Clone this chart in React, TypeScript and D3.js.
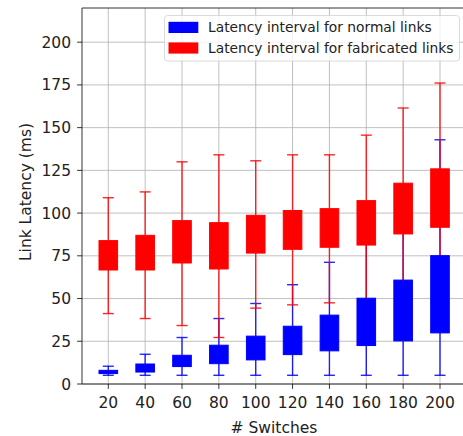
import React from "react";
import * as d3 from "d3";

const switches = ["20", "40", "60", "80", "100", "120", "140", "160", "180", "200"];

// normal links (blue)
const normalLow = [5.1, 5.1, 5.1, 5.1, 5.1, 5.1, 5.1, 5.1, 5.1, 5.1];
const normalQ1 = [6.1, 7.0, 10.2, 11.9, 14.1, 17.2, 19.4, 22.5, 25.2, 29.9];
const normalQ3 = [8.0, 11.7, 16.8, 22.7, 28.0, 33.8, 40.3, 50.2, 60.8, 75.1];
const normalHigh = [10.4, 17.4, 27.2, 38.3, 47.1, 58.1, 71.2, 88, 105, 142.9];

// fabricated links (red)
const fabLow = [41.2, 38.3, 34.2, 27.2, 44.4, 46.3, 47.5, 38, 42, 48];
const fabQ1 = [66.7, 66.7, 70.8, 67.3, 76.6, 78.8, 80.0, 81.3, 87.8, 91.7];
const fabQ3 = [83.9, 87.0, 95.6, 94.4, 98.7, 101.5, 102.6, 107.3, 117.5, 125.9];
const fabHigh = [109, 112.4, 130, 134.1, 130.6, 134.1, 134.1, 145.6, 161.5, 176.1];

const yTicks = [0, 25, 50, 75, 100, 125, 150, 175, 200];

const W = 463;
const H = 436;
const left = 82;
const right = 466;
const top = 8;
const bottom = 384;
const font = "DejaVu Sans, sans-serif";

export default function App() {
  const x = d3.scaleLinear().domain([0, switches.length - 1]).range([108.3, 440]);
  const y = d3.scaleLinear().domain([0, 220]).range([bottom, top]);
  const boxW = 18.6;
  const capW = 11;

  const series = [
    { name: "Latency interval for normal links", color: "#0000ff", lo: normalLow, q1: normalQ1, q3: normalQ3, hi: normalHigh },
    { name: "Latency interval for fabricated links", color: "#ff0000", lo: fabLow, q1: fabQ1, q3: fabQ3, hi: fabHigh },
  ];

  const whiskers = series.map((s) => (
    <g key={"w" + s.name} stroke={s.color} strokeWidth={1.4} strokeOpacity={0.85}>
      {switches.map((c, i) => {
        const cx = x(i);
        return (
          <g key={c}>
            <line x1={cx} x2={cx} y1={y(s.hi[i])} y2={y(s.q3[i])} />
            <line x1={cx} x2={cx} y1={y(s.q1[i])} y2={y(s.lo[i])} />
            <line x1={cx - capW / 2} x2={cx + capW / 2} y1={y(s.hi[i])} y2={y(s.hi[i])} />
            <line x1={cx - capW / 2} x2={cx + capW / 2} y1={y(s.lo[i])} y2={y(s.lo[i])} />
          </g>
        );
      })}
    </g>
  ));

  const boxes = series.map((s) => (
    <g key={"b" + s.name} fill={s.color} stroke={s.color} strokeWidth={1}>
      {switches.map((c, i) => (
        <rect
          key={c}
          x={x(i) - boxW / 2}
          width={boxW}
          y={y(s.q3[i])}
          height={y(s.q1[i]) - y(s.q3[i])}
        />
      ))}
    </g>
  ));

  return (
    <svg width={W} height={H} style={{ position: "absolute", left: 0, top: 0 }} fontFamily={font}>
      <rect width={W} height={H} fill="white" />
      {/* grid */}
      <g stroke="#b0b0b0" strokeWidth={0.8}>
        {yTicks.map((t) => (
          <line key={"gy" + t} x1={left} x2={right} y1={y(t)} y2={y(t)} />
        ))}
        {switches.map((c, i) => (
          <line key={"gx" + c} x1={x(i)} x2={x(i)} y1={top} y2={bottom} />
        ))}
      </g>
      {whiskers}
      {boxes}
      {/* spines */}
      <g stroke="#000" strokeWidth={0.8} fill="none">
        <line x1={left} x2={left} y1={top} y2={bottom} />
        <line x1={left} x2={right} y1={top} y2={top} />
        <line x1={left} x2={right} y1={bottom} y2={bottom} />
        <line x1={right} x2={right} y1={top} y2={bottom} />
      </g>
      {/* axes */}
      <g fontSize={15.5} fill="#222">
        {yTicks.map((t) => (
          <g key={"ty" + t}>
            <line x1={left - 4.9} x2={left} y1={y(t)} y2={y(t)} stroke="#000" strokeWidth={0.8} />
            <text x={left - 11} y={y(t)} dy="0.36em" textAnchor="end">{t}</text>
          </g>
        ))}
        {switches.map((c, i) => (
          <g key={"tx" + c}>
            <line x1={x(i)} x2={x(i)} y1={bottom} y2={bottom + 4.9} stroke="#000" strokeWidth={0.8} />
            <text x={x(i)} y={408} textAnchor="middle">{c}</text>
          </g>
        ))}
        <text x={274} y={433} textAnchor="middle"># Switches</text>
        <text transform={`translate(31,${(top + bottom) / 2 - 4}) rotate(-90)`} textAnchor="middle">Link Latency (ms)</text>
      </g>
      {/* legend */}
      <g fontSize={13.8} fill="#222">
        <rect x={164.5} y={15.5} width={295} height={45.5} rx={3} fill="white" fillOpacity={0.8} stroke="#d0d0d0" strokeWidth={0.8} />
        {series.map((s, i) => (
          <g key={"lg" + s.name} transform={`translate(0,${i * 20.6})`}>
            <rect x={168.5} y={21.8} width={29.8} height={11.2} fill={s.color} />
            <text x={208} y={27.4} dy="0.36em">{s.name}</text>
          </g>
        ))}
      </g>
    </svg>
  );
}
